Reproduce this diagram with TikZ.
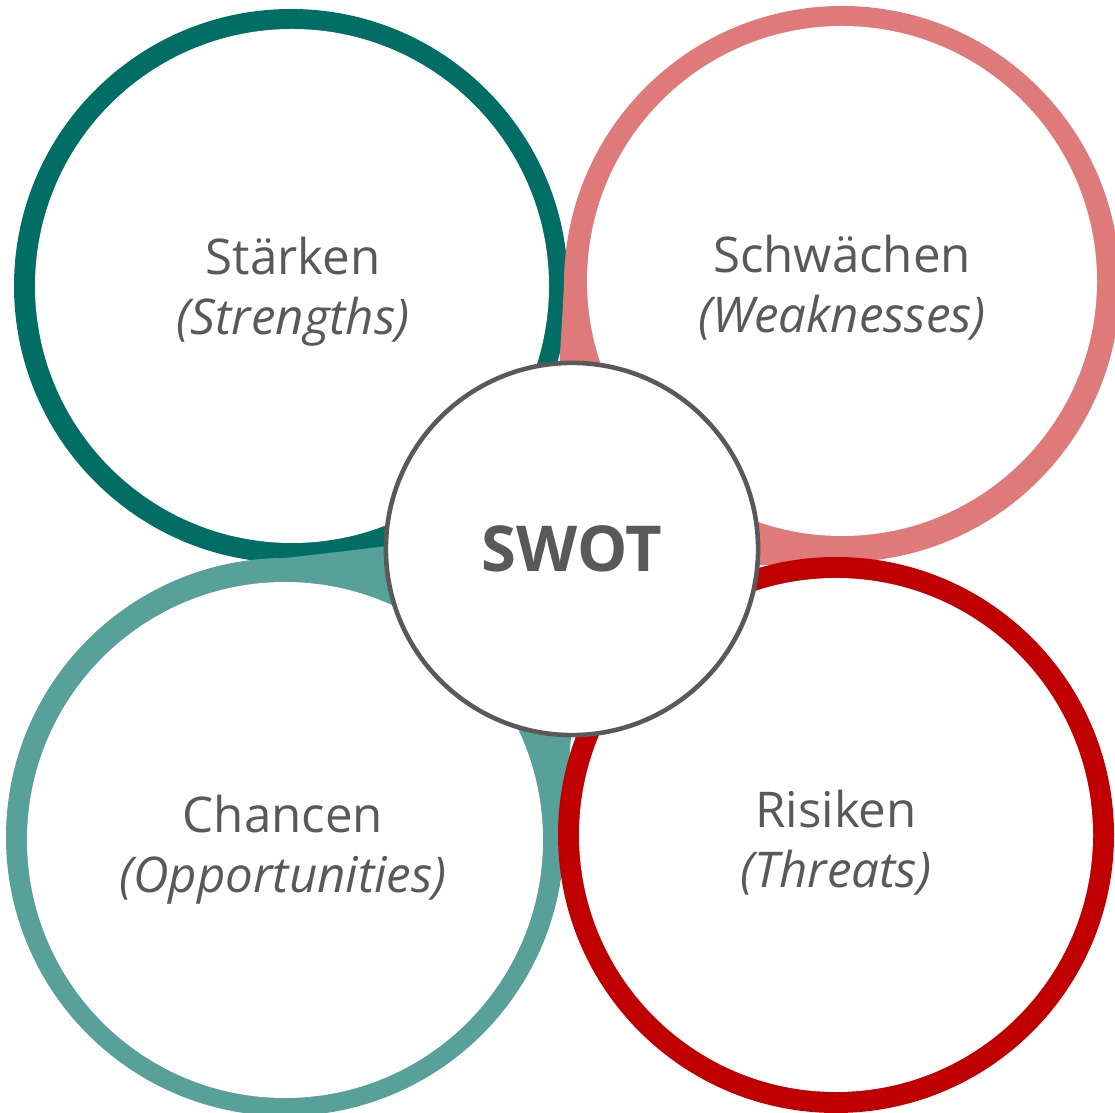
\documentclass[tikz,border=0pt]{standalone}
\usepackage{fontspec}
\setmainfont{Open Sans}
\definecolor{strongcol}{RGB}{0,110,100}
\definecolor{weakcol}{RGB}{223,122,122}
\definecolor{chancecol}{RGB}{88,160,154}
\definecolor{riskcol}{RGB}{192,0,0}
\definecolor{textgray}{RGB}{89,89,89}
\begin{document}
\begin{tikzpicture}[x=0.01cm, y=-0.01cm,
    ringtext/.style={text=textgray, align=center, font=\fontsize{14}{17}\selectfont},
    swotcircle/.style={circle, draw=textgray, line width=1.3pt, fill=white, minimum size=3.72cm,
        text=textgray, font=\fontsize{18}{21}\selectfont\bfseries}]
\useasboundingbox (0,0) rectangle (1115,1113);
\clip (0,0) rectangle (1115,1113);
% Staerken
\fill[strongcol] (291,286) circle[radius=277];
\fill[white] (292,286) circle[radius=257];
% Chancen
\fill[chancecol] (285,837) circle[radius=279];
\fill[chancecol] (285,558) .. controls (400,545) and (520,530) .. (600,518)
    .. controls (585,600) and (570,720) .. (564,837) -- cycle;
\fill[white] (285,840) circle[radius=258];
% Schwaechen
\fill[weakcol] (842,284) circle[radius=278];
\fill[weakcol] (564,284) .. controls (558,400) and (550,500) .. (541,577)
    .. controls (620,570) and (740,566) .. (842,562) -- cycle;
\fill[white] (842,281) circle[radius=255];
% Risiken
\fill[riskcol] (836,835) circle[radius=278];
\fill[white] (836,835) circle[radius=257];

\node[swotcircle] (swot) at (572,549) {SWOT};
\node[ringtext] (strengths) at (293,292) {Stärken\\\textit{(Strengths)}};
\node[ringtext] (weaknesses) at (842,288) {Schwächen\\\textit{(Weaknesses)}};
\node[ringtext] (opportunities) at (283,850) {Chancen\\\textit{(Opportunities)}};
\node[ringtext] (threats) at (836,843) {Risiken\\\textit{(Threats)}};
\end{tikzpicture}
\end{document}
